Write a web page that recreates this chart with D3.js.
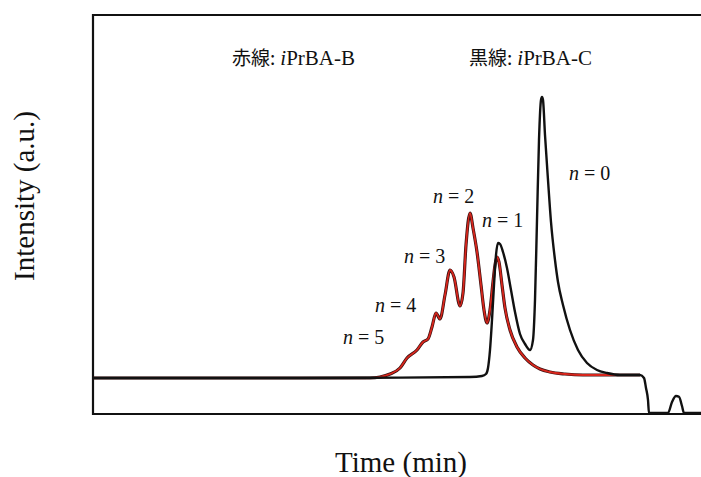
<!DOCTYPE html>
<html>
<head>
<meta charset="utf-8">
<script src="https://cdn.jsdelivr.net/npm/d3@7"></script>
<style>
body{margin:0;background:#fff;}
</style>
</head>
<body>
<div id="chart"></div>
<script>

// tiempo (min) e intensidad
const tiempoNegro = [0,5.175,7.675,9.425,9.725,9.825,9.875,9.925,9.975,10.025,10.075,10.125,10.175,10.25,10.35,10.45,10.55,10.675,10.8,10.925,11.0,11.05,11.1,11.15,11.2,11.225,11.25,11.3,11.375,11.45,11.55,11.625,11.75,11.925,12.125,12.35,12.6,12.85,13.175,13.675,13.775,13.825,13.875,13.9,14.375,14.475,14.575,14.65,14.725,14.775,15.2];
const intensidadNegro = [0,0,0.01,0.025,0.05,0.1,0.25,0.7,1.45,2.325,3.075,3.375,3.35,3.15,2.75,2.2,1.65,1.1,0.85,0.7,0.95,1.95,3.95,5.95,6.95,7.025,6.95,6.075,4.95,3.9,2.95,2.4,1.825,1.2,0.7,0.375,0.2,0.125,0.075,0.075,0,-0.25,-0.55,-0.875,-0.875,-0.6,-0.45,-0.47,-0.7,-0.875,-0.875];

const tiempoRojo = [0,6.925,7.175,7.425,7.675,7.85,8.1,8.25,8.375,8.475,8.575,8.675,8.8,8.925,9.025,9.175,9.25,9.325,9.425,9.5,9.6,9.7,9.775,9.85,9.925,10.0,10.05,10.1,10.15,10.225,10.3,10.425,10.6,10.8,11.0,11.175,11.425,11.8,12.25,13.175,13.675];
const intensidadRojo = [0,0,0.025,0.1,0.25,0.5,0.7,0.9,0.975,1.275,1.625,1.475,2.075,2.7,2.525,1.8,2.125,3.325,4.125,3.75,3.15,2.325,1.7,1.375,1.7,2.4,2.825,3.025,2.9,2.325,1.75,1.2,0.775,0.5,0.325,0.225,0.15,0.1,0.075,0.075,0.075];

// etiquetas de picos
const picos = ["5","4","3","2","1","0"];
const picosT = [6.25,7.05,7.775,8.5,9.725,11.9];
const picosV = [0.85,1.65,2.875,4.375,3.775,4.95];

const leyenda = ["赤線:","黒線:"];
const leyendaMuestra = ["PrBA-B","PrBA-C"];
const leyendaT = [3.475,9.4];
const leyendaV = 7.825;

const serif = "Liberation Serif";
const cjk = "Noto Sans CJK JP";

const width = 701;
const height = 477;

const svg = d3.select("#chart")
.append("svg")
.attr("width",width)
.attr("height",height);

svg.append("rect")
.attr("width",width)
.attr("height",height)
.attr("fill","#fff");

const x = d3.scaleLinear()
.domain([0,15.2])
.range([93,701]);

const y = d3.scaleLinear()
.domain([-0.9,9.1])
.range([414,14]);

// MARCO (sin lado derecho)
svg.append("path")
.attr("d",`M${width+2},${y(9.075)}H${x(0)}V${y(-0.9)}H${width+2}`)
.attr("fill","none")
.attr("stroke","#111")
.attr("stroke-width",2.2);

const linea = d3.line()
.x(d=>x(d[0]))
.y(d=>y(d[1]))
.curve(d3.curveMonotoneX);

const rojo = tiempoRojo.map((t,i)=>[t,intensidadRojo[i]]);
const negro = tiempoNegro.map((t,i)=>[t,intensidadNegro[i]]);

// LINEA ROJA
svg.append("path")
.datum(rojo)
.attr("d",linea)
.attr("fill","none")
.attr("stroke","#3a1010")
.attr("stroke-width",3.2);

svg.append("path")
.datum(rojo)
.attr("d",linea)
.attr("fill","none")
.attr("stroke","#d8261c")
.attr("stroke-width",1.8);

// LINEA NEGRA
svg.append("path")
.datum(negro)
.attr("d",linea)
.attr("fill","none")
.attr("stroke","#111")
.attr("stroke-width",2.4);

// texto suelto, devuelve el ancho
function texto(px,py,s,fam,size,italic){
const t = svg.append("text")
.attr("x",px)
.attr("y",py)
.attr("fill","#111")
.attr("font-family",fam)
.attr("font-size",size)
.attr("font-style",italic?"italic":"normal")
.text(s);
return t.node().getComputedTextLength();
}

// ETIQUETAS n
picos.forEach((p,i)=>{
let px = x(picosT[i]);
const py = y(picosV[i]);
px += texto(px,py,"n",serif,20,true)+5;
px += texto(px,py,"=",serif,20,false)+5;
texto(px,py,p,serif,20,false);
});

// LEYENDA
leyenda.forEach((l,i)=>{
let px = x(leyendaT[i]);
const py = y(leyendaV);
px += texto(px,py,l,cjk,19,false)+5;
px += texto(px,py,"i",serif,21,true);
texto(px,py,leyendaMuestra[i],serif,21,false);
});

// ETIQUETA X
svg.append("text")
.attr("x",401)
.attr("y",472)
.attr("text-anchor","middle")
.attr("font-family",serif)
.attr("font-size",29)
.attr("fill","#111")
.text("Time (min)");

// ETIQUETA Y
svg.append("text")
.attr("transform","translate(34,196) rotate(-90)")
.attr("text-anchor","middle")
.attr("font-family",serif)
.attr("font-size",29)
.attr("fill","#111")
.text("Intensity (a.u.)");

</script>
</body>
</html>
